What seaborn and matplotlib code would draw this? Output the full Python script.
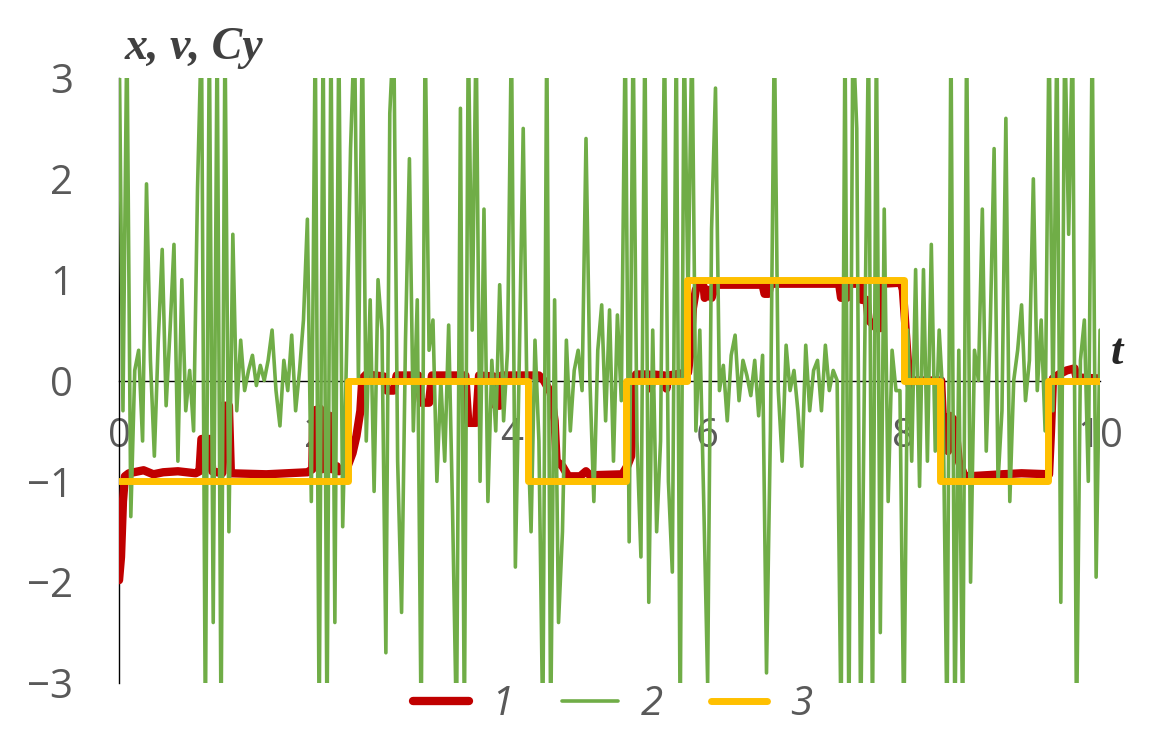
import numpy as np
import matplotlib
matplotlib.use("Agg")
import matplotlib.pyplot as plt
import seaborn as sns

# --- data ---
# series 2 (v): sampled every 0.04 from t=0 to t=10
green_u0 = [3.5, -0.3, 3.5, -1.35, 0.1, 0.3, -0.6, 1.95, 0.2, -0.75, 0.4, 1.3, -0.25,
            0.5, 1.35, -0.8, 1.0, -0.3, 0.1, -0.5, 1.9, 3.5, -3.5, 3.5, -2.4]
green_u1 = [3.5, -3.5, 3.5, -1.5, 1.45, -0.3, 0.4, -0.1, 0.1, 0.25, -0.05, 0.15, 0.0,
            0.2, 0.5, -0.1, -0.45, 0.2, -0.1, 0.45, -0.3, 0.1, 0.6, 1.6, -1.2]
green_u2 = [3.5, -3.5, 3.5, -3.5, 3.5, -2.4, 3.5, -1.45, 0.3, 2.3, 3.5, 0.0, 3.5,
            -0.6, 0.8, -1.1, 1.0, 0.5, -2.7, 2.65, 3.5, -0.8, -2.3, 0.4, 2.2]
green_u3 = [-0.5, 0.8, -3.5, 3.5, 0.3, 0.6, -1.0, 0.0, -0.8, 0.55, -1.3, -3.5, 2.7,
            -3.5, 3.5, 0.5, 3.5, -1.0, 1.7, -1.2, 0.2, -0.5, 0.95, -0.4, 0.3]
green_u4 = [3.5, -1.85, 0.2, 2.5, -0.3, -1.5, 0.4, -0.6, -3.5, 3.5, -3.5, 0.8, -2.4,
            -1.5, 0.4, -0.5, 0.1, 0.3, -0.1, 2.4, 0.0, -1.2, 0.3, 0.75, -0.4]
green_u5 = [0.7, -0.8, 0.65, -0.2, 3.5, -1.6, 3.5, -0.6, -1.75, 3.5, -2.2, 0.5, -1.5,
            -0.6, 3.5, -1.0, -1.9, 3.5, -3.5, 3.5, 0.8, 3.5, -0.5, 0.5, -1.2]
green_u6 = [-3.0, 1.5, 2.9, -0.1, 0.15, -0.4, 0.25, 0.45, -0.2, 0.2, 0.05, -0.15, 0.2,
            -0.35, 0.25, -2.9, -0.5, 3.5, -0.1, -0.8, 0.35, -0.1, 0.1, -0.3, -0.85]
green_u7 = [0.35, -0.3, 0.1, 0.2, -0.3, 0.35, -0.1, 0.1, 0.0, -3.5, 3.5, -3.5, 3.5,
            2.5, -3.5, 0.2, 3.5, -3.5, 3.5, -2.5, 1.7, -1.2, 0.3, -0.1, -0.1]
green_u8 = [-3.5, 0.5, -0.8, 1.1, -1.05, 1.1, -0.8, 1.35, -0.7, 0.5, -0.2, -3.5, 3.5,
            -3.5, 0.3, -3.5, 3.5, -2.0, 0.3, 0.0, 1.7, -0.7, 0.5, 2.3, -1.0]
green_u9 = [-0.3, 2.6, -1.2, 0.0, 0.3, 0.75, -0.2, 0.2, 2.0, -0.1, 0.6, -0.5, 3.5,
            -0.3, 3.5, -2.2, 3.5, 1.45, 3.5, -3.5, 0.2, 0.6, -1.0, 3.5, -1.95, 0.5]

# series 1 (x): breakpoints
red_t = [0.00, 0.02, 0.04, 0.06, 0.10, 0.25, 0.35, 0.45, 0.60, 0.78, 0.82, 0.84, 0.93,
         0.95, 1.05, 1.06, 1.12, 1.14, 1.50, 1.92, 1.97, 1.98, 2.05, 2.07, 2.09, 2.15,
         2.17, 2.22, 2.24, 2.33, 2.38, 2.42, 2.46, 2.48, 2.52, 2.70, 2.73, 2.80, 2.83,
         3.05, 3.08, 3.16, 3.19, 3.53, 3.56, 3.64, 3.67, 3.82, 3.84, 3.88, 3.90, 4.28,
         4.33, 4.40, 4.44, 4.46, 4.52, 4.58, 4.70, 4.76, 4.80, 5.13, 5.18, 5.22, 5.25,
         5.27, 5.40, 5.42, 5.44, 5.56, 5.58, 5.60, 5.80, 5.82, 5.85, 5.88, 5.92, 5.96,
         5.97, 6.02, 6.04, 6.08, 6.56, 6.58, 6.62, 6.64, 7.34, 7.36, 7.42, 7.44, 7.55,
         7.57, 7.62, 7.64, 7.72, 7.76, 7.78, 7.97, 7.99, 8.04, 8.06, 8.10, 8.38, 8.41,
         8.45, 8.47, 8.52, 8.56, 8.62, 8.66, 9.00, 9.20, 9.48, 9.50, 9.52, 9.58, 9.66,
         9.74, 9.76, 10.0]
red_v = [-1.98, -1.75, -1.2, -0.95, -0.92, -0.89, -0.93, -0.91, -0.90, -0.92, -0.90, -0.58, -0.58,
         -0.90, -0.92, -0.25, -0.25, -0.92, -0.93, -0.91, -0.88, -0.30, -0.28, -0.88, -0.40, -0.35,
         -0.88, -0.85, -0.90, -0.85, -0.72, -0.55, -0.30, 0.02, 0.06, 0.04, -0.10, -0.10, 0.05,
         0.05, -0.22, -0.22, 0.05, 0.05, -0.42, -0.42, 0.05, 0.04, -0.25, -0.25, 0.05, 0.05,
         0.0, -0.12, -0.40, -0.80, -0.85, -0.95, -0.95, -0.90, -0.94, -0.93, -0.85, -0.75, 0.02,
         0.06, 0.06, -0.08, 0.06, 0.05, -0.08, 0.05, 0.08, 0.25, 0.72, 0.90, 0.97, 0.93,
         0.82, 0.90, 0.82, 0.95, 0.95, 0.86, 0.86, 0.96, 0.96, 0.82, 0.82, 0.96, 0.96,
         0.80, 0.80, 0.60, 0.52, 0.52, 0.96, 0.97, 0.90, 0.20, -0.05, 0.0, 0.0, -0.65,
         -0.70, -0.35, -0.40, -0.80, -0.95, -0.95, -0.93, -0.92, -0.93, -0.50, 0.02, 0.06, 0.10,
         0.12, 0.03, 0.02]

# series 3 (Cy): set-point steps
cy_t = [0.0, 2.33, 4.17, 5.17, 5.79, 8.0, 8.37, 9.47, 10.0]
cy_v = [-1, 0, -1, 0, 1, 0, -1, 0, 0]

green_v = green_u0 + green_u1 + green_u2 + green_u3 + green_u4 + \
    green_u5 + green_u6 + green_u7 + green_u8 + green_u9
green_t = np.linspace(0, 10, len(green_v))

sns.set_style("white")
plt.rcParams['font.family'] = ['Open Sans', 'DejaVu Sans']

gray = '#595959'
fig = plt.figure(figsize=(11.49, 7.36), dpi=100)
ax = fig.add_axes([0.1036, 0.072, 0.8538, 0.822])

sns.lineplot(x=red_t, y=red_v, ax=ax, color='#C00000', linewidth=6,
             label='1', estimator=None, sort=False, zorder=3)
sns.lineplot(x=green_t, y=green_v, ax=ax, color='#70AD47', linewidth=2.6,
             label='2', estimator=None, sort=False, zorder=4)
sns.lineplot(x=cy_t, y=cy_v, ax=ax, color='#FFC000', linewidth=5,
             label='3', estimator=None, sort=False, drawstyle='steps-post', zorder=5)

ax.set_xlim(0, 10)
ax.set_ylim(-3, 3)
ax.set_xticks([0, 2, 4, 6, 8, 10])
ax.set_yticks([-3, -2, -1, 0, 1, 2, 3])
ax.spines['bottom'].set_position(('data', 0))
ax.spines['bottom'].set_bounds(0, 10)
ax.spines['left'].set_color('black')
ax.spines['bottom'].set_color('black')
ax.spines['left'].set_linewidth(1)
ax.spines['bottom'].set_linewidth(1)
ax.spines['top'].set_visible(False)
ax.spines['right'].set_visible(False)
ax.tick_params(axis='x', length=0, pad=26, labelsize=29, labelcolor=gray)
ax.tick_params(axis='y', length=0, pad=33, labelsize=29, labelcolor=gray)
ax.set_xlabel('')
ax.set_ylabel('')

fig.text(0.108, 0.935, 'x, v, Cy', family='Liberation Serif', style='italic',
         weight='bold', fontsize=33, color='#404040', va='center', ha='left')
fig.text(0.967, 0.52, 't', family='Liberation Serif', style='italic',
         weight='bold', fontsize=32, color='#262626', va='center', ha='left')

ax.legend_.remove()
handles, labels = ax.get_legend_handles_labels()
leg = fig.legend(handles, labels, loc='center', bbox_to_anchor=(0.533, 0.042), ncol=3,
                 frameon=False, handlelength=1.4, handletextpad=0.55, columnspacing=1.2,
                 prop={'family': 'Open Sans', 'style': 'italic', 'size': 29})
for txt in leg.get_texts():
    txt.set_color(gray)

fig.savefig('out.png', dpi=100)
